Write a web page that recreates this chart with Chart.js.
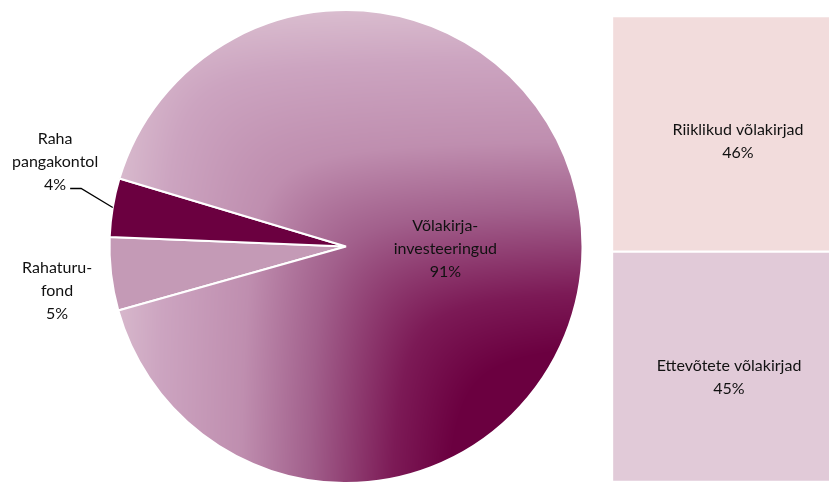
<!DOCTYPE html>
<html>
<head>
<meta charset="utf-8">
<script src="https://cdn.jsdelivr.net/npm/chart.js@4/dist/chart.umd.min.js"></script>
<style>
body{margin:0;background:#fff;width:829px;height:484px;overflow:hidden;position:relative}
#piebox{position:absolute;left:0;top:0;width:600px;height:484px}
#barbox{position:absolute;left:612px;top:16px;width:220px;height:466px}
</style>
</head>
<body>
<div id="piebox"><canvas id="pie"></canvas></div>
<div id="barbox"><canvas id="bar"></canvas></div>
<script>
// pie: portfolio split
var pieLabels = [["Rahaturu-", "fond"], ["Raha", "pangakontol"], ["Võlakirja-", "investeeringud"]];
var pieValues = [5, 4, 91];
var pieColors = ["#c49ab6", "#6b0040", null]; // last one gets the gradient

// bar: breakdown of the bonds
var barLabels = ["Ettevõtete võlakirjad", "Riiklikud võlakirjad"];
var barValues = [45, 46];
var barColors = ["#e1cad8", "#f2dcdc"];

var FONT = "16px Lato";
var TXT = "#111";

// rectangular-ish gradient, dark in the bottom-right corner of the pie box
var gradStops = [[0, "#6b0040"], [0.22, "#6b0040"], [0.33, "#7c1a56"], [0.5, "#a2608c"],
	[0.64, "#bf8eaf"], [0.81, "#cca4c0"], [0.91, "#d8bacd"], [1, "#e8d8e2"]];

function hex(c){ return [parseInt(c.substr(1,2),16), parseInt(c.substr(3,2),16), parseInt(c.substr(5,2),16)]; }
var stopRgb = gradStops.map(function(s){ return [s[0], hex(s[1])]; });

function colorAt(t){
	if (t <= 0) return stopRgb[0][1];
	for (var i = 1; i < stopRgb.length; i++) {
		if (t <= stopRgb[i][0]) {
			var a = stopRgb[i-1], b = stopRgb[i];
			var f = (t - a[0]) / (b[0] - a[0]);
			return [a[1][0] + (b[1][0]-a[1][0])*f, a[1][1] + (b[1][1]-a[1][1])*f, a[1][2] + (b[1][2]-a[1][2])*f];
		}
	}
	return stopRgb[stopRgb.length-1][1];
}

var fillCache = null;
function bigFill(chart){
	var a = chart.chartArea;
	if (!a) return "#a86894";
	var key = a.left + "," + a.top + "," + a.right + "," + a.bottom;
	if (fillCache && fillCache.key === key) return fillCache.pat;
	var cx = (a.left + a.right) / 2, cy = (a.top + a.bottom) / 2;
	var r = Math.min(a.right - a.left, a.bottom - a.top) / 2;
	var kx = cx + r, ky = cy + r;
	var soft = 45; // rounds the diagonal seam
	var W = chart.canvas.width, H = chart.canvas.height;
	var off = document.createElement("canvas");
	off.width = W; off.height = H;
	var octx = off.getContext("2d");
	var img = octx.createImageData(W, H);
	for (var y = 0; y < H; y++) {
		for (var x = 0; x < W; x++) {
			var u = kx - x, v = ky - y;
			var m = (u + v) / 2 + Math.sqrt((u - v) * (u - v) / 4 + soft * soft) - soft;
			var c = colorAt(m / (2 * r));
			var p = (y * W + x) * 4;
			img.data[p] = c[0]; img.data[p+1] = c[1]; img.data[p+2] = c[2]; img.data[p+3] = 255;
		}
	}
	octx.putImageData(img, 0, 0);
	fillCache = { key: key, pat: chart.ctx.createPattern(off, "no-repeat") };
	return fillCache.pat;
}

// label spots: [radius factor, extra dx, extra dy, leader line?]
var pieLabelSpots = [
	[1.23, 0, 10, false],
	[1.23, -4, -37, true],
	[0.42, 0, 1, false]
];

var pieLabelPlugin = {
	id: "pieLabels",
	afterDatasetsDraw: function(chart){
		var ctx = chart.ctx;
		var arcs = chart.getDatasetMeta(0).data;
		ctx.save();
		ctx.font = FONT;
		ctx.fillStyle = TXT;
		ctx.textAlign = "center";
		ctx.textBaseline = "middle";
		arcs.forEach(function(arc, i){
			var mid = (arc.startAngle + arc.endAngle) / 2;
			var s = pieLabelSpots[i];
			var x = arc.x + Math.cos(mid) * arc.outerRadius * s[0] + s[1];
			var y = arc.y + Math.sin(mid) * arc.outerRadius * s[0] + s[2];
			var lines = pieLabels[i].concat([pieValues[i] + "%"]);
			var lh = 23;
			var y0 = y - (lines.length - 1) * lh / 2;
			lines.forEach(function(t, k){ ctx.fillText(t, x, y0 + k * lh); });
			if (s[3]) {
				var w = ctx.measureText(lines[lines.length - 1]).width;
				var ly = y0 + (lines.length - 1) * lh + 4;
				var ex = arc.x + Math.cos(mid) * arc.outerRadius;
				var ey = arc.y + Math.sin(mid) * arc.outerRadius;
				ctx.strokeStyle = "#000";
				ctx.lineWidth = 1.3;
				ctx.beginPath();
				ctx.moveTo(x + w / 2 + 4, ly);
				ctx.lineTo(x + w / 2 + 15, ly);
				ctx.lineTo(ex, ey);
				ctx.stroke();
			}
		});
		ctx.restore();
	}
};

var pieChart = new Chart(document.getElementById("pie"), {
	type: "pie",
	data: {
		labels: pieLabels,
		datasets: [{
			data: pieValues,
			backgroundColor: function(c){
				return pieColors[c.dataIndex] || bigFill(c.chart);
			},
			borderColor: "#fff",
			borderWidth: 2
		}]
	},
	options: {
		responsive: true,
		maintainAspectRatio: false,
		animation: false,
		rotation: 254.3,
		layout: { padding: { left: 108, right: 16, top: 9, bottom: 0 } },
		plugins: { legend: { display: false }, tooltip: { enabled: false } }
	},
	plugins: [pieLabelPlugin]
});

// label offsets from the segment centre
var barLabelShift = [[7, 11], [16, 8]];

var barLabelPlugin = {
	id: "barLabels",
	afterDatasetsDraw: function(chart){
		var ctx = chart.ctx;
		ctx.save();
		ctx.font = FONT;
		ctx.fillStyle = TXT;
		ctx.textAlign = "center";
		ctx.textBaseline = "middle";
		chart.data.datasets.forEach(function(ds, i){
			var el = chart.getDatasetMeta(i).data[0];
			var cx = el.x + barLabelShift[i][0];
			var cy = (el.y + el.base) / 2 + barLabelShift[i][1];
			ctx.fillText(ds.label, cx, cy - 11.5);
			ctx.fillText(ds.data[0] + "%", cx, cy + 11.5);
		});
		ctx.restore();
	}
};

var barChart = new Chart(document.getElementById("bar"), {
	type: "bar",
	data: {
		labels: [""],
		datasets: barLabels.map(function(l, i){
			return {
				label: l,
				data: [barValues[i]],
				backgroundColor: barColors[i],
				borderColor: "#fff",
				borderWidth: 1.5,
				borderSkipped: false,
				barPercentage: 1,
				categoryPercentage: 1
			};
		})
	},
	options: {
		responsive: true,
		maintainAspectRatio: false,
		animation: false,
		layout: { padding: 0 },
		scales: {
			x: { stacked: true, display: false },
			y: { stacked: true, display: false, min: 0, max: 91 }
		},
		plugins: { legend: { display: false }, tooltip: { enabled: false } }
	},
	plugins: [barLabelPlugin]
});
</script>
</body>
</html>
